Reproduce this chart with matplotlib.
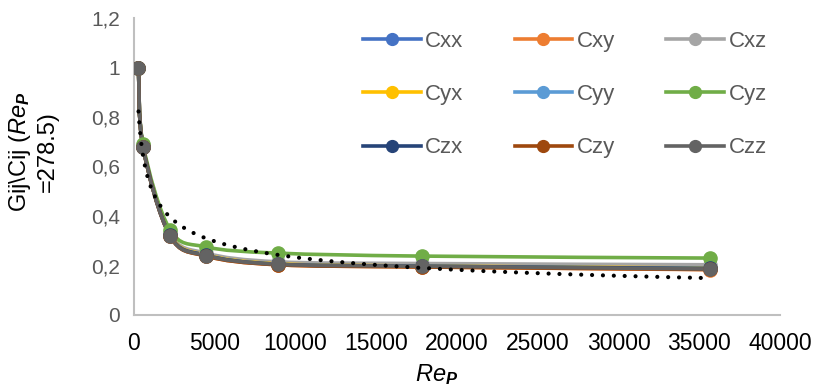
import numpy as np
import matplotlib
matplotlib.use("Agg")
import matplotlib.pyplot as plt
from matplotlib.path import Path
from matplotlib.patches import PathPatch
from matplotlib.lines import Line2D

plt.rcParams['font.family'] = ['Liberation Sans', 'DejaVu Sans']
plt.rcParams['mathtext.fontset'] = 'custom'
plt.rcParams['mathtext.rm'] = 'Liberation Sans'
plt.rcParams['mathtext.it'] = 'Liberation Sans:italic'
plt.rcParams['mathtext.bf'] = 'Liberation Sans:bold'
plt.rcParams['mathtext.bfit'] = 'Liberation Sans:italic:bold'

# Data
re_p = [278.5, 557, 2228, 4456, 8912, 17824, 35648]
names = ['Cxx', 'Cxy', 'Cxz', 'Cyx', 'Cyy', 'Cyz', 'Czx', 'Czy', 'Czz']
cxx = [1.0, 0.68, 0.325, 0.243, 0.207, 0.198, 0.190]
cxy = [1.0, 0.68, 0.320, 0.238, 0.203, 0.194, 0.183]
cxz = [1.0, 0.685, 0.330, 0.250, 0.215, 0.208, 0.203]
cyx = [1.0, 0.68, 0.325, 0.243, 0.207, 0.198, 0.190]
cyy = [1.0, 0.68, 0.322, 0.241, 0.205, 0.197, 0.188]
cyz = [1.0, 0.69, 0.345, 0.275, 0.250, 0.238, 0.230]
czx = [1.0, 0.68, 0.322, 0.241, 0.205, 0.197, 0.188]
czy = [1.0, 0.68, 0.320, 0.238, 0.203, 0.194, 0.184]
czz = [1.0, 0.68, 0.320, 0.240, 0.205, 0.197, 0.186]
colors = ['#4472C4', '#ED7D31', '#A5A5A5', '#FFC000', '#5B9BD5',
          '#70AD47', '#264478', '#9E480E', '#636363']
yticks = [0, 0.2, 0.4, 0.6, 0.8, 1.0, 1.2]
ytick_labels = ['0', '0,2', '0,4', '0,6', '0,8', '1', '1,2']
xticks = [0, 5000, 10000, 15000, 20000, 25000, 30000, 35000, 40000]

series = [cxx, cxy, cxz, cyx, cyy, cyz, czx, czy, czz]


# smoothed line like Excel (Catmull-Rom as cubic bezier)
def smooth_path(x, y):
    p = np.column_stack([x, y]).astype(float)
    verts = [p[0]]
    codes = [Path.MOVETO]
    n = len(p)
    for i in range(n - 1):
        p0 = p[i - 1] if i > 0 else p[i]
        p1 = p[i]
        p2 = p[i + 1]
        p3 = p[i + 2] if i + 2 < n else p[i + 1]
        c1 = p1 + (p2 - p0) / 6.0
        c2 = p2 - (p3 - p1) / 6.0
        verts += [c1, c2, p2]
        codes += [Path.CURVE4] * 3
    return Path(verts, codes)


fig = plt.figure(figsize=(8.14, 3.92), dpi=100)
ax = fig.add_axes([134 / 814, 1 - 315 / 392, (780 - 134) / 814, (315 - 18) / 392])

for vals, col in zip(series, colors):
    patch = PathPatch(smooth_path(re_p, vals), facecolor='none', edgecolor=col,
                      lw=2.6, capstyle='round', joinstyle='round')
    ax.add_patch(patch)
    ax.plot(re_p, vals, 'o', color=col, markersize=9.5, zorder=3)

# power trendline through all series
xx = np.tile(re_p, len(series))
yy = np.concatenate(series)
b, ln_a = np.polyfit(np.log(xx), np.log(yy), 1)
xt = np.linspace(re_p[0], re_p[-1], 600)
ax.plot(xt, np.exp(ln_a) * xt ** b, color='black', lw=3,
        linestyle=(0, (0.01, 2.6)), dash_capstyle='round', zorder=4)

ax.set_xlim(0, 40000)
ax.set_ylim(0, 1.2)
ax.set_xticks(xticks)
ax.set_xticklabels([str(t) for t in xticks], fontsize=16.5, color='black')
ax.set_yticks(yticks)
ax.set_yticklabels(ytick_labels, fontsize=15, color='#595959')
ax.tick_params(axis='x', length=0, pad=12)
ax.tick_params(axis='y', length=0, pad=10)
for s in ['top', 'right']:
    ax.spines[s].set_visible(False)
for s in ['left', 'bottom']:
    ax.spines[s].set_color('#BFBFBF')
    ax.spines[s].set_linewidth(1.5)

fig.text(437 / 814, 1 - 375 / 392, r'$\mathit{Re}_{\mathbfit{P}}$', fontsize=17,
         ha='center', va='center')
fig.text(33 / 814, 1 - 152 / 392, 'Gij\\Cij ($\\mathit{Re}_{\\mathbfit{P}}$\n=278.5)',
         fontsize=17, rotation=90, ha='center', va='center', multialignment='center')

# legend fills column by column, so reorder to read row by row
order = [0, 3, 6, 1, 4, 7, 2, 5, 8]
handles = [Line2D([], [], color=colors[i], lw=2.6, marker='o', markersize=8.5) for i in order]
labels = [names[i] for i in order]
fig.legend(handles, labels, loc='upper left', bbox_to_anchor=(363 / 814, 1 - 31 / 392),
           ncol=3, frameon=False, fontsize=16, handlelength=2.6, handletextpad=0.2,
           columnspacing=2.3, labelspacing=1.45, borderpad=0, borderaxespad=0,
           labelcolor='#595959')

fig.savefig('out.png', dpi=100)
